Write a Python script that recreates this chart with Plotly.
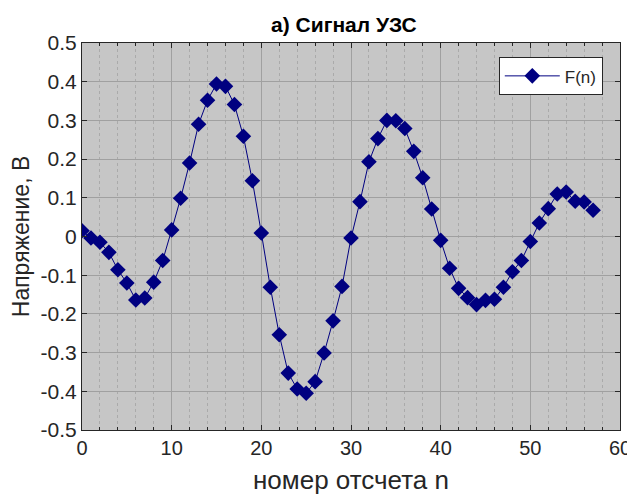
import plotly.graph_objects as go

n_values = list(range(58))
f_values = [0.015, -0.004, -0.015, -0.041, -0.086, -0.120, -0.164, -0.159, -0.118, -0.062,
            0.017, 0.099, 0.190, 0.290, 0.352, 0.394, 0.388, 0.341, 0.259, 0.144,
            0.009, -0.131, -0.254, -0.353, -0.394, -0.405, -0.375, -0.301, -0.218, -0.129,
            -0.004, 0.090, 0.193, 0.253, 0.300, 0.299, 0.279, 0.220, 0.152, 0.071,
            -0.010, -0.082, -0.134, -0.158, -0.176, -0.165, -0.162, -0.131, -0.091, -0.062,
            -0.013, 0.035, 0.072, 0.110, 0.115, 0.091, 0.089, 0.068]
x_ticks = [0, 10, 20, 30, 40, 50, 60]
y_ticks = [0.5, 0.4, 0.3, 0.2, 0.1, 0, -0.1, -0.2, -0.3, -0.4, -0.5]
y_tick_text = ["0.5", "0.4", "0.3", "0.2", "0.1", "0", "-0.1", "-0.2", "-0.3", "-0.4", "-0.5"]

fig = go.Figure()
fig.add_trace(go.Scatter(
    x=n_values, y=f_values, mode="lines+markers", name="F(n)",
    line=dict(color="#000080", width=1),
    marker=dict(symbol="diamond", size=12, color="#000080"),
))

font = "Liberation Sans, Arial, sans-serif"
fig.update_layout(
    width=635, height=487,
    margin=dict(l=74, r=23, t=35, b=65),
    paper_bgcolor="white", plot_bgcolor="#c6c6c6",
    font=dict(family=font, size=21, color="#262626"),
    title=dict(text="<b>а) Сигнал УЗС</b>", x=0.529, xanchor="center", y=0.965, yanchor="middle",
               font=dict(size=21, color="#000000")),
    showlegend=True,
    legend=dict(x=0.968, y=0.963, xanchor="right", yanchor="top", bgcolor="white",
                bordercolor="#262626", borderwidth=1, font=dict(size=17, color="#262626"),
                itemwidth=55),
)
fig.update_xaxes(
    range=[0, 60], tickvals=x_ticks, ticks="inside", ticklen=5, tickcolor="#262626",
    tickfont=dict(size=20),
    showline=True, linecolor="#262626", linewidth=1, mirror="allticks", automargin=False,
    ticklabeloverflow="allow",
    showgrid=True, gridcolor="#a0a0a0", gridwidth=1, zeroline=False,
    minor=dict(dtick=2, tick0=0, showgrid=True, gridcolor="#aaaaaa", griddash="dot",
               ticks="inside", ticklen=3, tickcolor="#262626"),
    title=dict(text="номер отсчета n", font=dict(size=26), standoff=12),
)
fig.update_yaxes(
    range=[-0.5, 0.5], tickvals=y_ticks, ticktext=y_tick_text, ticks="inside", ticklen=5,
    tickcolor="#262626", showline=True, linecolor="#262626", linewidth=1, mirror="allticks",
    showgrid=True, gridcolor="#a0a0a0", gridwidth=1, zeroline=False, automargin=False,
    ticklabeloverflow="allow",
    title=dict(text="Напряжение, В", font=dict(size=23), standoff=5),
)

fig.write_html("out.html")
